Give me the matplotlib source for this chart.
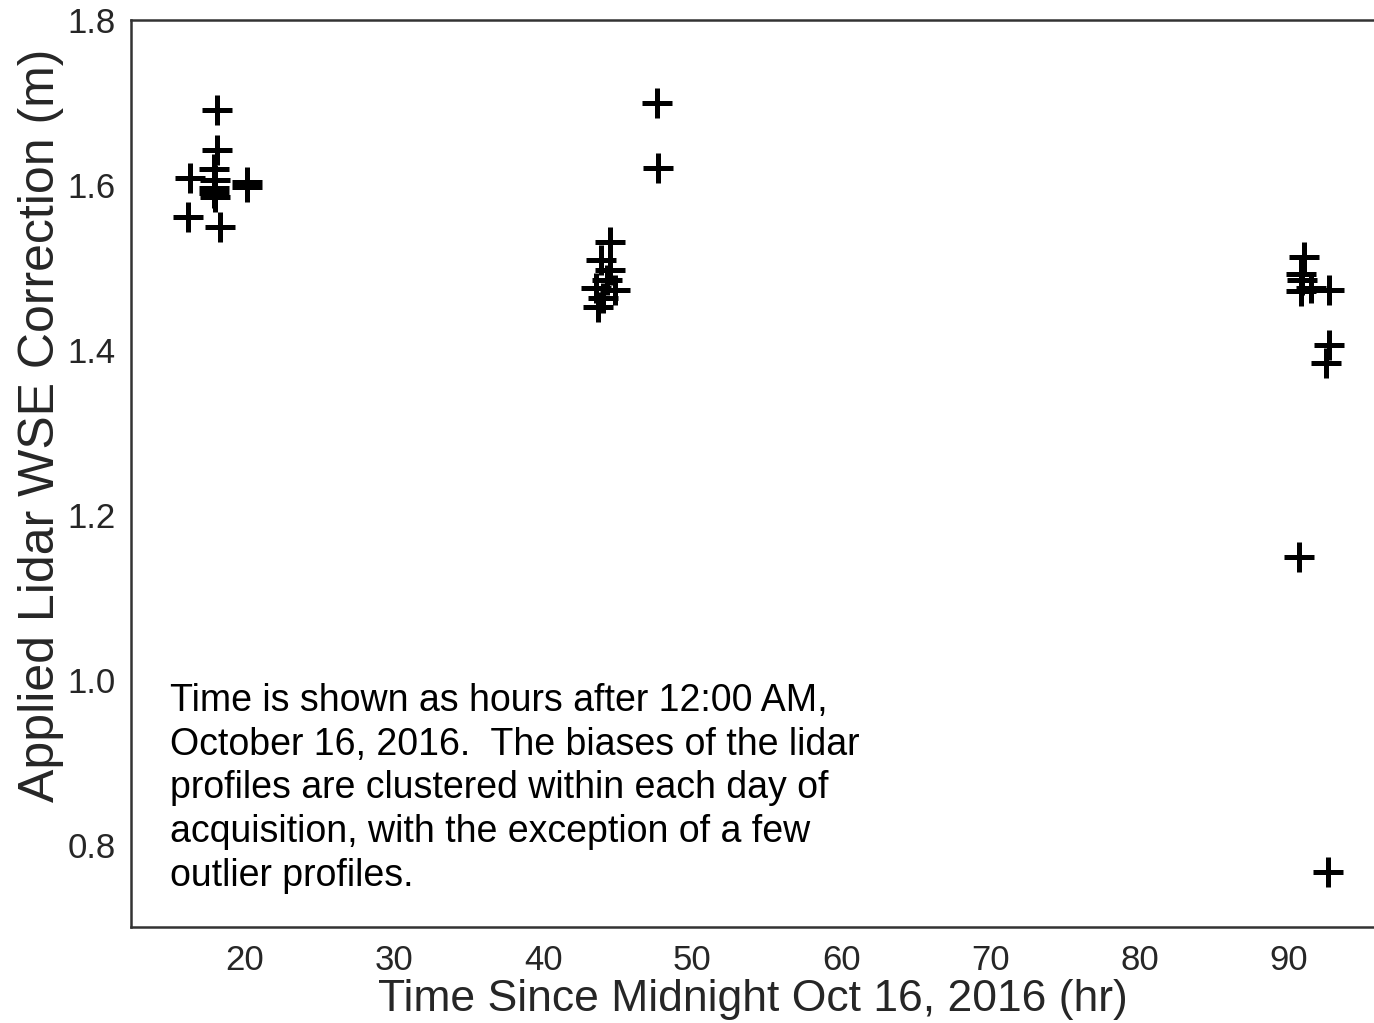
import matplotlib
matplotlib.use("Agg")
import matplotlib.pyplot as plt
import seaborn as sns

# hours after midnight Oct 16 2016, applied WSE correction (m)
day1_t = [18.1, 18.1, 17.9, 16.3, 17.9, 17.9, 20.1, 20.1, 16.2, 18.3, 18.0, 18.0]
day1_c = [1.691, 1.642, 1.619, 1.608, 1.596, 1.590, 1.604, 1.598, 1.561, 1.549, 1.606, 1.585]

day2_t = [47.6, 47.7, 44.5, 43.9, 44.5, 43.5, 44.8, 43.7, 44.3, 44.0]
day2_c = [1.699, 1.620, 1.531, 1.509, 1.497, 1.475, 1.473, 1.452, 1.485, 1.463]

day4_t = [91.0, 90.8, 90.8, 91.5, 92.7, 92.7, 92.5, 90.9, 90.7, 92.6]
day4_c = [1.513, 1.492, 1.471, 1.475, 1.473, 1.406, 1.384, 1.485, 1.149, 0.767]

times = day1_t + day2_t + day4_t
corrections = day1_c + day2_c + day4_c

note = ("Time is shown as hours after 12:00 AM,\n"
        "October 16, 2016.  The biases of the lidar\n"
        "profiles are clustered within each day of\n"
        "acquisition, with the exception of a few\n"
        "outlier profiles.")

sns.set_style("white")
plt.rcParams['font.family'] = ['Liberation Sans', 'DejaVu Sans']

fig = plt.figure(figsize=(13.74, 10.23), dpi=100)
ax = fig.add_axes([0.0953, 0.0938, 0.9047, 0.8866])

ax.plot(times, corrections, linestyle='none', marker='+', color='black',
        markersize=22, markeredgewidth=3.6)

ax.set_xlim(12.35, 95.7)
ax.set_ylim(0.7, 1.8)
ax.set_xticks([20, 30, 40, 50, 60, 70, 80, 90])
ax.set_yticks([0.8, 1.0, 1.2, 1.4, 1.6, 1.8])
ax.set_yticklabels(['0.8', '1.0', '1.2', '1.4', '1.6', '1.8'])
ax.tick_params(labelsize=25, colors='#262626', length=0)
ax.tick_params(axis='x', pad=12)
ax.tick_params(axis='y', pad=11)

for s in ['left', 'bottom', 'top']:
    ax.spines[s].set_color('#333333')
    ax.spines[s].set_linewidth(1.8)
ax.spines['right'].set_visible(False)

ax.set_xlabel('Time Since Midnight Oct 16, 2016 (hr)', fontsize=32, color='#262626', labelpad=2)
ax.set_ylabel('Applied Lidar WSE Correction (m)', fontsize=36, color='#262626')
ax.yaxis.set_label_coords(-0.0535, 0.553)

ax.text(15.0, 0.74, note, fontsize=27, color='black',
        va='bottom', ha='left', linespacing=1.28)

fig.savefig('out.png', dpi=100)
